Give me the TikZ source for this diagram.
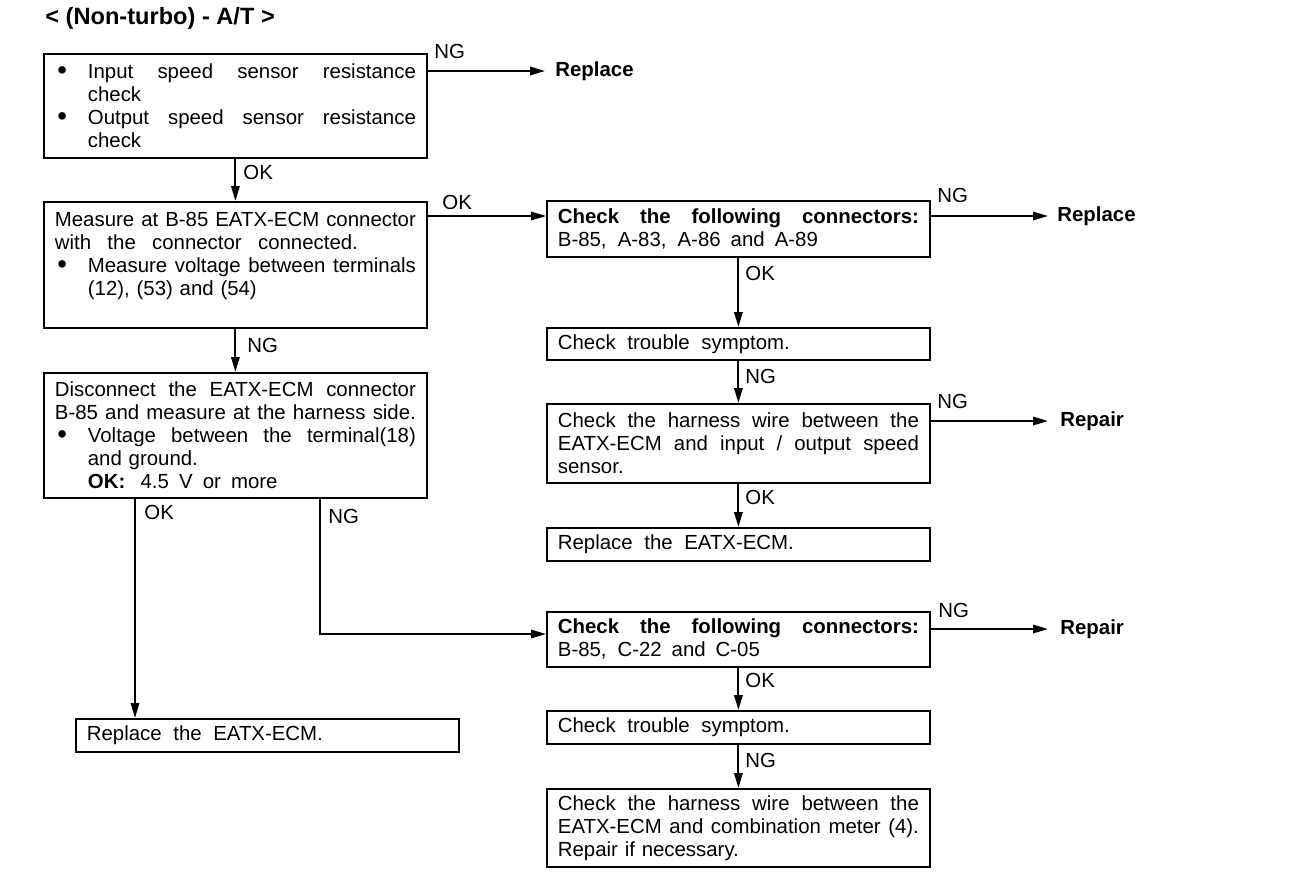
\documentclass[tikz,border=0pt]{standalone}
\usepackage{fontspec}
\usepackage{graphicx}
\setmainfont{Liberation Sans}
\usetikzlibrary{arrows.meta,calc}
\newcommand{\stretchsp}{\spaceskip=\fontdimen2\font plus 1fil minus \fontdimen4\font\relax}
\newcommand{\jline}[1]{\makebox[\hsize][s]{\stretchsp #1}}
\newcommand{\wline}[2]{\makebox[#1][s]{\stretchsp #2}}
\newcommand{\bigbul}{\raisebox{-0.6pt}{\scalebox{1.35}{\textbullet}}}
\newcommand{\bline}[1]{\makebox[16.5pt][l]{\hspace{1.2pt}\bigbul}\makebox[\dimexpr\hsize-16.5pt\relax][s]{\stretchsp #1}}
\newcommand{\iline}[1]{\hspace*{16.5pt}#1}
\begin{document}
\begin{tikzpicture}[x=0.5pt,y=-0.5pt,
  box/.style={draw, line width=0.9pt, anchor=north west, align=left, inner xsep=5.5pt, inner ysep=0pt,
    text width=180.5pt, minimum width=191.5pt, font=\fontsize{10.2}{11.5}\selectfont},
  arr/.style={line width=1pt, -{Triangle[length=7.5pt,width=4.2pt]}},
  lab/.style={anchor=west, inner sep=0pt, font=\fontsize{10.2}{11.5}\selectfont},
  tgt/.style={anchor=west, inner sep=0pt, font=\bfseries\fontsize{10.2}{11.5}\selectfont}]
\useasboundingbox (0,0) rectangle (1312,878);

\node[anchor=west, inner sep=0pt, font=\bfseries\fontsize{11.8}{13}\selectfont] (title) at (45,18) {< (Non-turbo) - A/T >};

% left column
\node[box, minimum height=52pt] (b1) at (43,53)
  {\bline{Input speed sensor resistance}\\ \iline{check}\\ \bline{Output speed sensor resistance}\\ \iline{check}};
\node[box, minimum height=63pt] (b2) at (43,201)
  {\jline{Measure at B-85 EATX-ECM connector}\\ \wline{151.5pt}{with the connector connected.}\\ \bline{Measure voltage between terminals}\\ \iline{(12), (53) and (54)}\\ \mbox{}};
\node[box, minimum height=62.5pt] (b3) at (43,372)
  {\jline{Disconnect the EATX-ECM connector}\\ \jline{B-85 and measure at the harness side.}\\ \bline{Voltage between the terminal(18)}\\ \iline{and ground.}\\ \iline{\textbf{OK:}\hspace{0.75em}\wline{68.5pt}{4.5 V or more}}};
\node[box, minimum width=191pt, minimum height=16.5pt] (b4) at (75,718)
  {\wline{118pt}{Replace the EATX-ECM.}};

% right column
\node[box, minimum height=28pt] (r1) at (546,200)
  {\jline{\bfseries Check the following connectors:}\\ \wline{130pt}{B-85, A-83, A-86 and A-89}};
\node[box, minimum height=16pt] (r2) at (546,327)
  {\wline{116pt}{Check trouble symptom.}};
\node[box, minimum height=39.5pt] (r3) at (546,403)
  {\jline{Check the harness wire between the}\\ \jline{EATX-ECM and input / output speed}\\ sensor.};
\node[box, minimum height=16.5pt] (r4) at (546,527)
  {\wline{118pt}{Replace the EATX-ECM.}};
\node[box, minimum height=27.5pt] (r5) at (546,611)
  {\jline{\bfseries Check the following connectors:}\\ \wline{101pt}{B-85, C-22 and C-05}};
\node[box, minimum height=16.5pt] (r6) at (546,710)
  {\wline{116pt}{Check trouble symptom.}};
\node[box, minimum height=39pt] (r7) at (546,788)
  {\jline{Check the harness wire between the}\\ \jline{EATX-ECM and combination meter (4).}\\ Repair if necessary.};

% targets
\node[tgt] (rep1) at (555,71) {Replace};
\node[tgt] (rep2) at (1057,216) {Replace};
\node[tgt] (rpr1) at (1060,421) {Repair};
\node[tgt] (rpr2) at (1060,629) {Repair};

% connectors
\draw[arr, shorten >=5pt] (b1.east |- rep1.west) -- (rep1.west);
\draw[arr] (b1.south) -- (b2.north);
\coordinate (c1) at ($(b2.north east)+(0,15)$);
\draw[arr] (c1) -- (c1 -| r1.west);
\draw[arr] (b2.south) -- (b3.north);
\coordinate (okx) at (135,0);
\draw[arr] (b3.south -| okx) -- (b4.north -| okx);
\coordinate (ngx) at (320,0);
\coordinate (c2) at ($(r5.north west)+(0,23)$);
\draw[arr] (b3.south -| ngx) |- (c2);
\draw[arr, shorten >=4.5pt] (r1.east |- rep2.west) -- (rep2.west);
\draw[arr] (r1.south) -- (r2.north);
\draw[arr] (r2.south) -- (r3.north);
\draw[arr, shorten >=6pt] (r3.east |- rpr1.west) -- (rpr1.west);
\draw[arr] (r3.south) -- (r4.north);
\draw[arr, shorten >=6pt] (r5.east |- rpr2.west) -- (rpr2.west);
\draw[arr] (r5.south) -- (r6.north);
\draw[arr] (r6.south) -- (r7.north);

% labels
\node[lab] (l1) at (434,51) {NG};
\node[lab] (l2) at (243,172) {OK};
\node[lab] (l3) at (442,202) {OK};
\node[lab] (l4) at (247,345) {NG};
\node[lab] (l5) at (144,512) {OK};
\node[lab] (l6) at (328,516) {NG};
\node[lab] (l7) at (937,195) {NG};
\node[lab] (l8) at (745,273) {OK};
\node[lab] (l9) at (745,376) {NG};
\node[lab] (l10) at (937,401) {NG};
\node[lab] (l11) at (745,497) {OK};
\node[lab] (l12) at (938,610) {NG};
\node[lab] (l13) at (745,680) {OK};
\node[lab] (l14) at (745,760) {NG};
\end{tikzpicture}
\end{document}
